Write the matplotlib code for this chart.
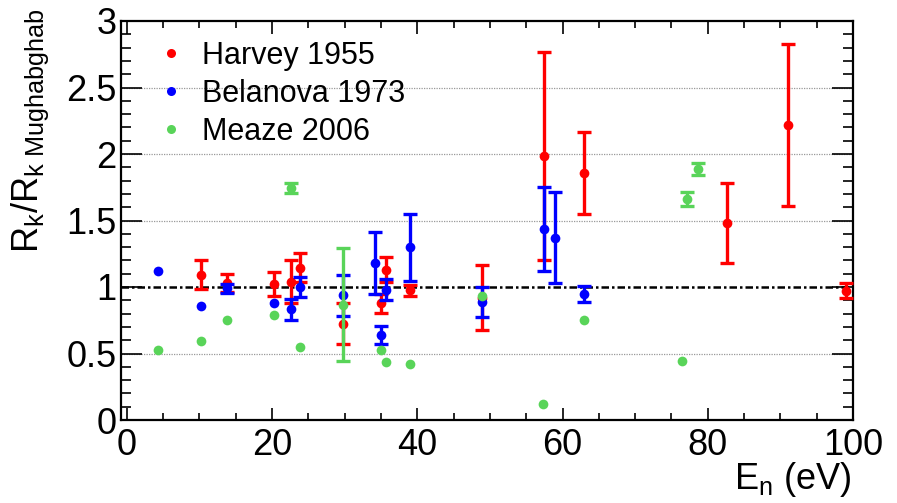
import numpy as np
import matplotlib
matplotlib.use("Agg")
import matplotlib.pyplot as plt
from matplotlib.lines import Line2D
from matplotlib.ticker import MultipleLocator

plt.rcParams["font.family"] = ["Liberation Sans", "DejaVu Sans"]
plt.rcParams["mathtext.fontset"] = "custom"
plt.rcParams["mathtext.rm"] = "Liberation Sans"
plt.rcParams["mathtext.it"] = "Liberation Sans"

# Harvey 1955
harvey_e = [10.2, 13.8, 20.2, 22.6, 23.9, 29.8, 35.0, 35.7, 39.0, 48.9, 57.4, 62.9, 82.7, 91.1, 99.1]
harvey_r = [1.093, 1.03, 1.026, 1.038, 1.145, 0.723, 0.877, 1.13, 0.976, 0.92, 1.985, 1.856, 1.484, 2.216, 0.972]
harvey_err = [0.11, 0.07, 0.09, 0.162, 0.11, 0.153, 0.072, 0.093, 0.042, 0.242, 0.785, 0.31, 0.30, 0.61, 0.058]

# Belanova 1973
belanova_e = [4.3, 10.2, 13.8, 20.2, 22.6, 23.9, 29.8, 34.2, 35.0, 35.7, 39.0, 48.9, 57.4, 58.9, 62.9]
belanova_r = [1.119, 0.857, 0.989, 0.877, 0.833, 1.0, 0.937, 1.179, 0.64, 0.981, 1.298, 0.889, 1.435, 1.372, 0.946]
belanova_err = [0, 0, 0.037, 0, 0.08, 0.072, 0.155, 0.235, 0.065, 0.077, 0.254, 0.112, 0.316, 0.341, 0.06]

# Meaze 2006
meaze_e = [4.3, 10.2, 13.8, 20.2, 22.6, 23.8, 29.8, 35.0, 35.7, 39.0, 48.9, 57.3, 63.0, 76.5, 77.2, 78.7]
meaze_r = [0.525, 0.595, 0.753, 0.788, 1.744, 0.55, 0.865, 0.525, 0.436, 0.419, 0.934, 0.121, 0.753, 0.447, 1.665, 1.888]
meaze_err = [0, 0, 0, 0, 0.04, 0, 0.425, 0, 0, 0, 0, 0, 0, 0, 0.053, 0.048]

series = [
    ("Harvey 1955", harvey_e, harvey_r, harvey_err, "#ff0000"),
    ("Belanova 1973", belanova_e, belanova_r, belanova_err, "#0000ff"),
    ("Meaze 2006", meaze_e, meaze_r, meaze_err, "#59d459"),
]

fig = plt.figure(figsize=(8.97, 5.03), dpi=100)
ax = fig.add_axes([121 / 897, 1 - 420 / 503, (853 - 121) / 897, (420 - 21) / 503])

for yv in [0.5, 1.5, 2.0, 2.5]:
    ax.axhline(yv, color="#999999", lw=0.9, ls=(0, (1, 1)), zorder=1)
ax.axhline(1.0, color="black", lw=1.8, ls=(0, (3, 1.2, 1, 1.2)), zorder=2)

handles = []
for i, (name, e, r, err, col) in enumerate(series):
    e = np.array(e)
    r = np.array(r)
    err = np.array(err)
    m = err > 0
    ax.errorbar(e[m], r[m], yerr=err[m], fmt="none", ecolor=col, elinewidth=2.4,
                capsize=4.8, capthick=2.4, zorder=3 + i)
    ax.plot(e, r, "o", color=col, ms=7, mew=0, zorder=3 + i)
    handles.append(Line2D([], [], ls="none", marker="o", color=col, ms=6.5, mew=0, label=name))

ax.set_xlim(-0.8, 100)
ax.set_ylim(0, 3)
ax.xaxis.set_major_locator(MultipleLocator(20))
ax.xaxis.set_minor_locator(MultipleLocator(5))
ax.yaxis.set_major_locator(MultipleLocator(0.5))
ax.yaxis.set_minor_locator(MultipleLocator(0.1))
ax.set_yticks([0, 0.5, 1, 1.5, 2, 2.5, 3])
ax.set_yticklabels(["0", "0.5", "1", "1.5", "2", "2.5", "3"])
ax.tick_params(axis="both", which="both", direction="in", top=True, right=True, width=1.2, color="black")
ax.tick_params(axis="x", which="major", length=9, pad=6, labelsize=26)
ax.tick_params(axis="x", which="minor", length=4.8)
ax.tick_params(axis="y", which="major", length=15, pad=3, labelsize=26)
ax.tick_params(axis="y", which="minor", length=7)
for s in ax.spines.values():
    s.set_linewidth(1.6)

leg = ax.legend(handles=handles, loc="upper left", bbox_to_anchor=(0.01, 1.02), frameon=False,
                fontsize=22, handletextpad=0.5, labelspacing=0.27, handlelength=1.0)

fig.text(30 / 897, 1 - 8 / 503, r"$\mathregular{R_{k}/R_{k\ Mughabghab}}$", rotation=90,
         ha="center", va="top", fontsize=26)
fig.text(852 / 897, 4 / 503, r"$\mathregular{E_{n}}$ (eV)", ha="right", va="bottom", fontsize=26)

fig.savefig("out.png", dpi=100)
